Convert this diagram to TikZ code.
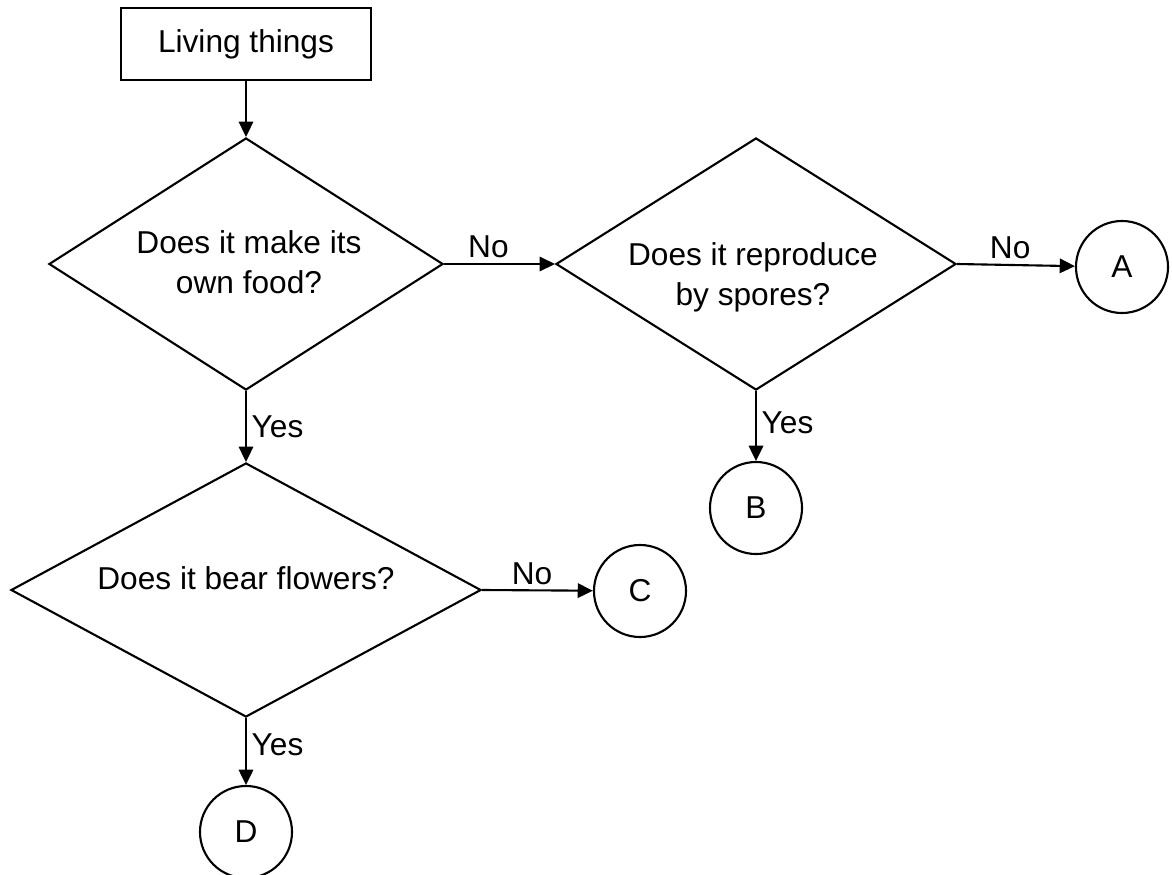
\documentclass[tikz,border=0pt]{standalone}
\usepackage{fontspec}
\setmainfont{Liberation Sans}
\usetikzlibrary{shapes.geometric,arrows.meta}
\tikzstyle{base}=[font=\fontsize{22.5pt}{28.5pt}\selectfont]
\tikzstyle{start}=[base, draw, line width=1.5pt, minimum width=6.25cm, minimum height=1.8cm, inner sep=0pt]
\tikzstyle{question}=[diamond, draw, line width=1.5pt, inner sep=0pt]
\tikzstyle{qtext}=[base, align=center, inner sep=0pt]
\tikzstyle{leaf}=[base, circle, draw, line width=1.5pt, minimum size=2.3cm, inner sep=0pt]
\tikzstyle{arr}=[line width=1.5pt, -{Triangle[length=0.38cm,width=0.36cm]}]
\tikzstyle{lab}=[base]

\begin{document}
\begin{tikzpicture}[x=0.025cm, y=-0.025cm]
	\useasboundingbox (0,0) rectangle (1172,875);

	%%% Boxes
	\node[start]                                                  (top) at (246,  44) {Living things};
	\node[question, minimum width=9.85cm,  minimum height=6.3cm]  (q1)  at (246, 264) {};
	\node[question, minimum width=10cm,    minimum height=6.3cm]  (q2)  at (756, 264) {};
	\node[question, minimum width=11.75cm, minimum height=6.35cm] (q3)  at (246, 590) {};
	\node[qtext] (t1) at (249, 262) {Does it make its\\own food?};
	\node[qtext] (t2) at (753, 277) {Does it reproduce\\by spores?};
	\node[qtext] (t3) at (246, 578) {Does it bear flowers?};

	%%% Ends
	\node[leaf] (A) at (1122, 267) {A};
	\node[leaf] (B) at (756,  508) {B};
	\node[leaf] (C) at (640,  591) {C};
	\node[leaf] (D) at (246,  832) {D};

	%%% Arrows
	\draw[arr] (top.south) -- (q1.north);
	\draw[arr] (q1.east) -- node[lab, above, pos=0.4] {No} (q2.west);
	\draw[arr] (q2.east) -- node[lab, above, pos=0.45] {No} (A);
	\draw[arr] (q3.east) -- node[lab, above, pos=0.45] {No} (C);
	\draw[arr] (q1.south) -- node[lab, right, pos=0.5] {Yes} (q3.north);
	\draw[arr] (q2.south) -- node[lab, right, pos=0.45] {Yes} (B);
	\draw[arr] (q3.south) -- node[lab, right, pos=0.4] {Yes} (D);
\end{tikzpicture}
\end{document}
